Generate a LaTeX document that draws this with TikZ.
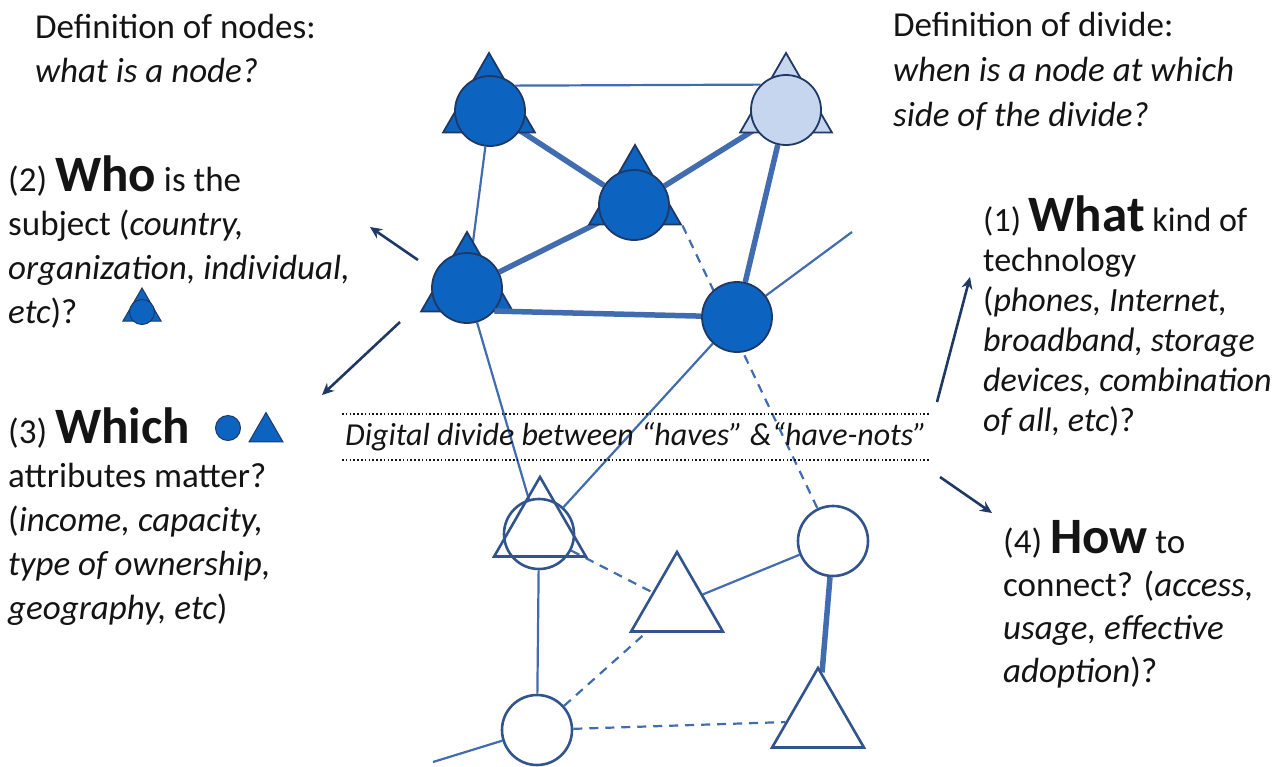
\documentclass[tikz,border=0pt]{standalone}
\usepackage{fontspec}
\setmainfont{Carlito}
\usetikzlibrary{shapes.geometric,arrows.meta,backgrounds}

\definecolor{fillblue}{RGB}{12,100,192}
\definecolor{liteblue}{RGB}{198,214,238}
\definecolor{navy}{RGB}{31,56,100}
\definecolor{edgeblue}{RGB}{66,108,176}
\definecolor{openblue}{RGB}{50,84,140}
\definecolor{ink}{RGB}{20,20,20}

\newcommand\keyword[1]{{\fontsize{51}{44}\selectfont\bfseries #1}}

\begin{document}
\begin{tikzpicture}
  [x=1pt,y=-1pt,inner sep=0pt,
   have/.style={circle,draw=navy,fill=fillblue,line width=1.8pt,minimum size=70pt},
   haveT/.style={regular polygon,regular polygon sides=3,draw=navy,fill=fillblue,line width=1.8pt,minimum size=106pt},
   lite/.style={have,fill=liteblue},
   liteT/.style={haveT,fill=liteblue},
   havenot/.style={circle,draw=openblue,line width=2.6pt,minimum size=70pt},
   havenotT/.style={regular polygon,regular polygon sides=3,draw=openblue,line width=2.6pt,minimum size=106pt},
   link/.style={draw=edgeblue,line width=2.2pt},
   strong/.style={draw=edgeblue,line width=5.5pt},
   weak/.style={draw=edgeblue,line width=2.2pt,dash pattern=on 9pt off 7pt},
   pointer/.style={draw=navy,line width=2.6pt,-{Stealth[length=12pt,width=11pt]}},
   divider/.style={draw=ink,line width=2.2pt,dash pattern=on 1.6pt off 2.2pt},
   txt/.style={anchor=north west,align=left,text=ink,font=\fontsize{35}{44}\selectfont}]
  \useasboundingbox (0,0) rectangle (1279,766);

  % haves
  \node at (489,106) (A-t) [haveT] {};
  \node at (490,111) (A) [have] {};
  \node at (786,106) (B-t) [liteT] {};
  \node at (786,110) (B) [lite] {};
  \node at (635,198) (C-t) [haveT] {};
  \node at (634,205) (C) [have] {};
  \node at (467,285) (D-t) [haveT] {};
  \node at (467,288) (D) [have] {};
  \node at (737,317) (E) [have] {};

  % have-nots
  \node at (540,530) (F-t) [havenotT] {};
  \node at (539,534) (F) [havenot] {};
  \node at (677,605) (G) [havenotT] {};
  \node at (833,541) (H) [havenot] {};
  \node at (537,730) (I) [havenot] {};
  \node at (818,721) (J) [havenotT] {};

  \coordinate (out1) at (852,232);
  \coordinate (out2) at (433,762);

  \begin{scope}[on background layer]
    \draw [link] (A.45) to (B.135);
    \draw [weak] (C-t.corner 3) to (H);
    \foreach \a/\b in {A/D,E/out1,E/F,D/F,G/H,F/I,I/out2}
      \draw [link] (\a) to (\b);
    \foreach \a/\b in {A/C,B/C,D/C,B/E,H/J}
      \draw [strong] (\a) to (\b);
    \foreach \a/\b in {F/G,I/G,I/J}
      \draw [weak] (\a) to (\b);
  \end{scope}
  \draw [strong] (D.-40) to (E);

  % the divide
  \node at (636,437) (divide) [text=ink,font=\fontsize{32}{36}\selectfont\itshape]
    {Digital divide between “haves” \&“have-nots”};
  \draw [divider] (342,414) -- (930,414);
  \draw [divider] (342,460) -- (930,460);

  % questions
  \node at (35,14) (nodes) [txt] {Definition of nodes:\\ \textit{what is a node?}};
  \node at (8,156) (who) [txt] {(2) \keyword{Who} is the\\ subject (\textit{country,}\\
    \textit{organization, individual,}\\ \textit{etc})?};
  \node at (8,408) (which) [txt] {(3) \keyword{Which}\\ attributes matter?\\
    (\textit{income, capacity,}\\ \textit{type of ownership,}\\ \textit{geography, etc})};
  \node at (893,12) (divdef) [txt,font=\fontsize{35}{45}\selectfont] {Definition of divide:\\ \textit{when is a node at which}\\
    \textit{side of the divide?}};
  \node at (983,196) (what) [txt,font=\fontsize{34}{40}\selectfont] {(1) \keyword{What} kind of\\ technology\\
    (\textit{phones, Internet,}\\ \textit{broadband, storage}\\ \textit{devices, combination}\\
    \textit{of all, etc})?};
  \node at (1003,520) (how) [txt,font=\fontsize{35}{43}\selectfont] {(4) \keyword{How} to\\ connect? (\textit{access,}\\
    \textit{usage, effective}\\ \textit{adoption})?};

  % legend marks
  \node at (142,310) (who-t) [haveT,minimum size=44pt,line width=1pt] {};
  \node at (142,312) (who-c) [have,minimum size=25pt,line width=1pt] {};
  \node at (228,428) (which-c) [have,minimum size=25pt,line width=1pt] {};
  \node at (266,432) (which-t) [haveT,minimum size=39pt,line width=1pt] {};

  % arrows
  \coordinate (p1) at (418,260);
  \coordinate (q1) at (370,227);
  \coordinate (p2) at (400,322);
  \coordinate (q2) at (322,395);
  \coordinate (p3) at (937,402);
  \coordinate (q3) at (970,277);
  \coordinate (p4) at (940,477);
  \coordinate (q4) at (992,513);
  \foreach \i in {1,...,4}
    \draw [pointer] (p\i) -- (q\i);
\end{tikzpicture}
\end{document}
